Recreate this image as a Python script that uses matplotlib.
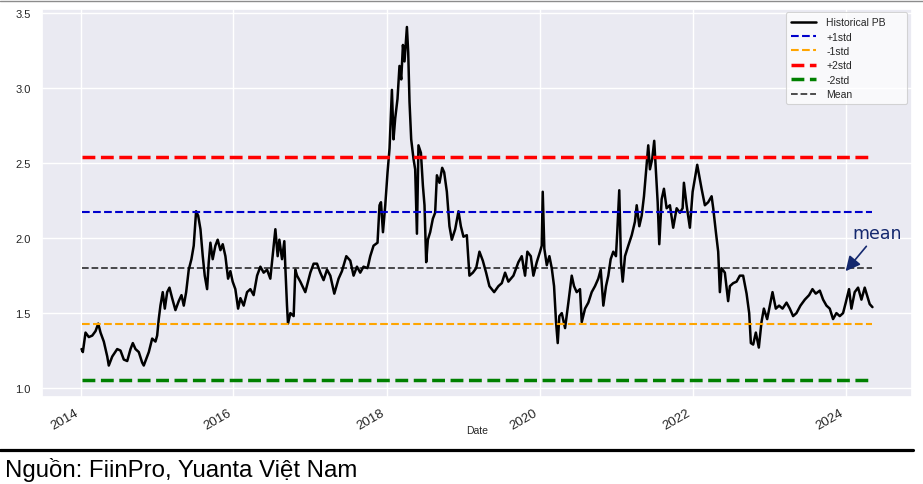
import numpy as np
import pandas as pd
import matplotlib
matplotlib.use("Agg")
import matplotlib.pyplot as plt
import matplotlib.dates as mdates
import seaborn as sns

# ---- data (years elapsed since 2014-01-01, historical P/B) ----
years = [0.013, 0.030, 0.065, 0.108, 0.153, 0.196, 0.231, 0.261, 0.304, 0.349,
         0.369, 0.414, 0.479, 0.522, 0.565, 0.610, 0.653, 0.683, 0.718, 0.761,
         0.805, 0.826, 0.871, 0.892, 0.936, 0.979, 1.001, 1.022, 1.044, 1.074,
         1.101, 1.132, 1.162, 1.197, 1.240, 1.283, 1.319, 1.349, 1.380, 1.414,
         1.449, 1.479, 1.510, 1.537, 1.567, 1.597, 1.623, 1.654, 1.675, 1.697,
         1.727, 1.762, 1.792, 1.828, 1.858, 1.893, 1.928, 1.958, 1.988, 2.023,
         2.059, 2.089, 2.132, 2.176, 2.219, 2.262, 2.307, 2.350, 2.393, 2.437,
         2.480, 2.524, 2.546, 2.576, 2.598, 2.633, 2.663, 2.676, 2.698, 2.711,
         2.742, 2.785, 2.807, 2.829, 2.872, 2.937, 3.003, 3.046, 3.090, 3.133,
         3.176, 3.221, 3.264, 3.316, 3.372, 3.416, 3.473, 3.525, 3.568, 3.612,
         3.655, 3.698, 3.751, 3.786, 3.829, 3.881, 3.907, 3.926, 3.952, 3.982,
         4.012, 4.038, 4.069, 4.090, 4.112, 4.142, 4.168, 4.191, 4.213, 4.234,
         4.265, 4.282, 4.299, 4.321, 4.351, 4.373, 4.396, 4.416, 4.448, 4.474,
         4.495, 4.517, 4.539, 4.569, 4.604, 4.634, 4.657, 4.691, 4.726, 4.752,
         4.787, 4.821, 4.852, 4.896, 4.939, 4.970, 5.004, 5.048, 5.082, 5.127,
         5.170, 5.213, 5.257, 5.300, 5.343, 5.405, 5.461, 5.505, 5.548, 5.591,
         5.657, 5.722, 5.766, 5.809, 5.839, 5.884, 5.918, 5.962, 6.005, 6.027,
         6.040, 6.061, 6.093, 6.127, 6.158, 6.188, 6.214, 6.236, 6.257, 6.289,
         6.332, 6.375, 6.419, 6.449, 6.484, 6.527, 6.550, 6.593, 6.636, 6.680,
         6.723, 6.766, 6.798, 6.832, 6.867, 6.897, 6.928, 6.962, 6.997, 7.014,
         7.040, 7.063, 7.085, 7.115, 7.158, 7.203, 7.245, 7.268, 7.302, 7.333,
         7.363, 7.398, 7.419, 7.441, 7.471, 7.497, 7.520, 7.542, 7.563, 7.594,
         7.624, 7.659, 7.702, 7.745, 7.790, 7.833, 7.868, 7.885, 7.920, 7.963,
         7.999, 8.029, 8.059, 8.116, 8.159, 8.202, 8.247, 8.268, 8.303, 8.333,
         8.355, 8.377, 8.420, 8.463, 8.486, 8.529, 8.573, 8.616, 8.659, 8.704,
         8.738, 8.760, 8.790, 8.825, 8.864, 8.899, 8.930, 8.973, 9.008, 9.043,
         9.086, 9.129, 9.174, 9.226, 9.269, 9.312, 9.356, 9.408, 9.465, 9.521,
         9.565, 9.608, 9.661, 9.704, 9.748, 9.791, 9.834, 9.878, 9.922, 9.965,
         10.000, 10.043, 10.074, 10.117, 10.161, 10.205, 10.248, 10.278, 10.313, 10.349]

pb = [1.26, 1.24, 1.37, 1.34, 1.35, 1.38, 1.43, 1.37, 1.31, 1.21,
      1.15, 1.21, 1.26, 1.25, 1.19, 1.18, 1.26, 1.30, 1.26, 1.24,
      1.17, 1.15, 1.21, 1.24, 1.33, 1.31, 1.35, 1.46, 1.55, 1.64,
      1.53, 1.64, 1.67, 1.60, 1.52, 1.58, 1.62, 1.55, 1.64, 1.79,
      1.86, 1.95, 2.18, 2.15, 2.06, 1.88, 1.75, 1.66, 1.84, 1.97,
      1.86, 1.95, 1.99, 1.92, 1.96, 1.88, 1.73, 1.78, 1.71, 1.66,
      1.53, 1.60, 1.55, 1.64, 1.66, 1.62, 1.75, 1.81, 1.77, 1.79,
      1.73, 1.95, 2.06, 1.88, 1.99, 1.86, 1.98, 1.81, 1.55, 1.43,
      1.50, 1.48, 1.79, 1.75, 1.71, 1.64, 1.77, 1.83, 1.83, 1.77,
      1.72, 1.79, 1.75, 1.63, 1.73, 1.78, 1.88, 1.85, 1.75, 1.81,
      1.77, 1.81, 1.80, 1.88, 1.95, 1.97, 2.22, 2.24, 2.04, 2.22,
      2.44, 2.60, 2.99, 2.66, 2.80, 2.93, 3.15, 3.06, 3.29, 3.18,
      3.41, 3.24, 2.91, 2.66, 2.53, 2.46, 2.03, 2.62, 2.57, 2.35,
      2.22, 1.84, 1.99, 2.04, 2.13, 2.17, 2.42, 2.37, 2.47, 2.44,
      2.31, 2.08, 1.99, 2.06, 2.18, 2.08, 2.01, 2.02, 1.75, 1.77,
      1.80, 1.91, 1.85, 1.77, 1.68, 1.64, 1.68, 1.70, 1.77, 1.71,
      1.75, 1.84, 1.88, 1.75, 1.91, 1.88, 1.75, 1.84, 1.91, 1.95,
      2.31, 1.93, 1.82, 1.88, 1.80, 1.68, 1.44, 1.30, 1.48, 1.50,
      1.40, 1.57, 1.75, 1.68, 1.64, 1.66, 1.44, 1.53, 1.57, 1.64,
      1.68, 1.73, 1.79, 1.55, 1.68, 1.75, 1.86, 1.91, 1.88, 2.04,
      2.32, 1.84, 1.71, 1.88, 1.95, 2.02, 2.11, 2.22, 2.08, 2.15,
      2.28, 2.49, 2.62, 2.46, 2.53, 2.65, 2.44, 2.24, 1.96, 2.26,
      2.33, 2.20, 2.22, 2.07, 2.20, 2.17, 2.20, 2.37, 2.22, 2.07,
      2.31, 2.40, 2.49, 2.33, 2.22, 2.24, 2.28, 2.20, 2.04, 1.91,
      1.64, 1.80, 1.77, 1.58, 1.68, 1.70, 1.71, 1.75, 1.75, 1.63,
      1.50, 1.30, 1.29, 1.37, 1.27, 1.44, 1.53, 1.46, 1.55, 1.64,
      1.53, 1.55, 1.53, 1.57, 1.53, 1.48, 1.50, 1.55, 1.59, 1.62,
      1.66, 1.63, 1.65, 1.59, 1.55, 1.53, 1.46, 1.50, 1.48, 1.50,
      1.57, 1.66, 1.53, 1.64, 1.67, 1.59, 1.67, 1.62, 1.56, 1.54]

mean_pb = 1.80
plus1 = 2.172
minus1 = 1.428
plus2 = 2.544
minus2 = 1.056

series_labels = ["Historical PB", "+1std", "-1std", "+2std", "-2std", "Mean"]
source_text = "Nguồn: FiinPro, Yuanta Việt Nam"

# ---- style ----
sns.set_theme(style="darkgrid")
plt.rcParams["font.family"] = ["Liberation Sans", "DejaVu Sans"]

base = pd.Timestamp("2014-01-01")
dates = base + pd.to_timedelta(np.array(years) * 365.25, unit="D")
n = len(dates)

fig = plt.figure(figsize=(9.23, 4.85), dpi=100)
ax = fig.add_axes([42 / 923, 1 - 398 / 485, (912 - 42) / 923, (398 - 10) / 485])

ax.plot(dates, pb, color="black", lw=1.8, label=series_labels[0])
ax.plot(dates, np.full(n, plus1), color="#0000cc", ls="--", lw=1.5, label=series_labels[1])
ax.plot(dates, np.full(n, minus1), color="orange", ls="--", lw=1.5, label=series_labels[2])
ax.plot(dates, np.full(n, plus2), color="red", ls="--", lw=2.5, label=series_labels[3])
ax.plot(dates, np.full(n, minus2), color="green", ls="--", lw=2.5, label=series_labels[4])
ax.plot(dates, np.full(n, mean_pb), color="black", alpha=0.75, ls="--", lw=1.3,
        label=series_labels[5])

span = dates[-1] - dates[0]
ax.set_xlim(dates[0] - span * 0.05, dates[-1] + span * 0.05)
ax.set_ylim(0.94, 3.53)
ax.xaxis.set_major_locator(mdates.YearLocator(2))
ax.xaxis.set_major_formatter(mdates.DateFormatter("%Y"))
ax.set_yticks([1.0, 1.5, 2.0, 2.5, 3.0, 3.5])
ax.tick_params(axis="y", labelsize=8, pad=2, colors="#262626")
ax.tick_params(axis="x", labelsize=9.5, pad=1, colors="#262626")
for lab in ax.get_xticklabels():
    lab.set_rotation(30)
    lab.set_ha("right")
ax.set_xlabel("Date", fontsize=7.5, color="#262626")
ax.xaxis.set_label_coords(0.5, -0.072)

leg = ax.legend(loc="upper left", bbox_to_anchor=(0.855, 0.5, 0.139, 0.492),
                mode="expand", borderaxespad=0, fontsize=7.5, frameon=True,
                handlelength=2.4, handletextpad=1.0, labelspacing=0.42, borderpad=0.5)
leg.get_frame().set_facecolor("white")
leg.get_frame().set_alpha(0.75)
leg.get_frame().set_edgecolor("#c8c8c8")
leg.get_frame().set_linewidth(0.8)

navy = "#14286e"
ax.annotate("mean",
            xy=(pd.Timestamp("2024-01-01"), 1.78),
            xytext=(pd.Timestamp("2024-06-01"), 2.035),
            ha="center", va="center", fontsize=12.5, color=navy,
            family="DejaVu Sans",
            arrowprops=dict(arrowstyle="-|>", color=navy, lw=1.2, mutation_scale=22,
                            shrinkA=1, shrinkB=0))

# document decorations around the chart
fig.add_artist(plt.Line2D([0, 1], [1 - 2 / 485, 1 - 2 / 485], color="#8c8c8c", lw=1.0,
                          transform=fig.transFigure))
fig.add_artist(plt.Line2D([0, 913 / 923], [1 - 451 / 485, 1 - 451 / 485], color="black",
                          lw=2.3, transform=fig.transFigure))
fig.text(5 / 923, 1 - 477 / 485, source_text, fontsize=17.3, va="baseline", ha="left",
         family=["Liberation Sans", "DejaVu Sans"], color="black")

fig.savefig("out.png", dpi=100)
